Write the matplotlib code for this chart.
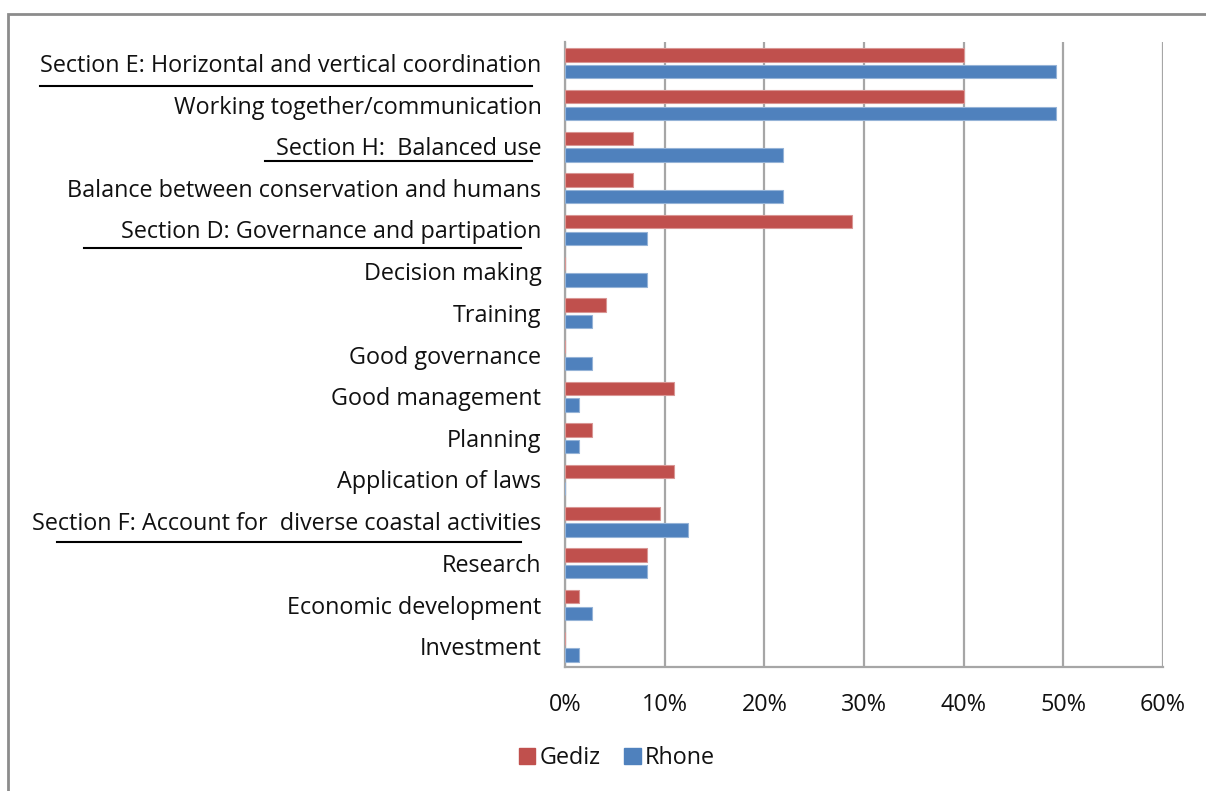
import numpy as np
import matplotlib.pyplot as plt
from matplotlib.lines import Line2D
from matplotlib.patches import Rectangle, Patch
from matplotlib.ticker import PercentFormatter
import matplotlib.transforms as mtransforms

plt.rcParams['font.family'] = ['Open Sans', 'DejaVu Sans']

categories = [
    'Section E: Horizontal and vertical coordination',
    'Working together/communication',
    'Section H:  Balanced use',
    'Balance between conservation and humans',
    'Section D: Governance and partipation',
    'Decision making',
    'Training',
    'Good governance',
    'Good management',
    'Planning',
    'Application of laws',
    'Section F: Account for  diverse coastal activities',
    'Research',
    'Economic development',
    'Investment',
]
gediz = [40.0, 40.0, 6.8, 6.8, 28.8, 0.0, 4.1, 0.0, 10.9, 2.7, 10.9, 9.5, 8.2, 1.4, 0.0]
rhone = [49.3, 49.3, 21.9, 21.9, 8.2, 8.2, 2.7, 2.7, 1.4, 1.4, 0.0, 12.3, 8.2, 2.7, 1.4]
series_names = ['Gediz', 'Rhone']
xticks = [0, 10, 20, 30, 40, 50, 60]

RED = '#C0504D'
BLUE = '#4F81BD'
GRID = '#A6A6A6'
TEXT = '#111111'
FS = 16.8

# section headings get a rule drawn under them: (category, left px, right px, y offset)
underlines = [
    (0, 40, 532, 0.56),
    (2, 265, 532, 0.36),
    (4, 84, 521, 0.44),
    (11, 57, 521, 0.50),
]

W, H = 1206, 791
fig = plt.figure(figsize=(W / 100, H / 100), dpi=100)
ax = fig.add_axes([565 / W, 1 - 667 / H, (1163 - 565) / W, (667 - 42) / H])

y = np.arange(len(categories))
h = 0.32
ax.barh(y - 0.19, gediz, height=h, color=RED, edgecolor='#D99694', linewidth=0.8,
        label=series_names[0], zorder=3)
ax.barh(y + 0.21, rhone, height=h, color=BLUE, edgecolor='#95B3D7', linewidth=0.8,
        label=series_names[1], zorder=3)

ax.set_ylim(len(categories) - 0.5, -0.5)
ax.set_yticks(y)
ax.set_yticklabels(categories, fontsize=FS, color=TEXT)
ax.set_xlim(0, 60)
ax.set_xticks(xticks)
ax.xaxis.set_major_formatter(PercentFormatter(decimals=0))
ax.tick_params(axis='x', labelsize=FS, labelcolor=TEXT, length=0, pad=19)
ax.tick_params(axis='y', length=0, pad=17)
ax.grid(axis='x', color=GRID, linewidth=1.6, zorder=0)
for s in ['top', 'right']:
    ax.spines[s].set_visible(False)
for s in ['left', 'bottom']:
    ax.spines[s].set_color(GRID)
    ax.spines[s].set_linewidth(1.6)

# rules under section headings, x in figure pixels, y in data units
trans = mtransforms.blended_transform_factory(fig.transFigure, ax.transData)
for idx, x0, x1, dy in underlines:
    fig.add_artist(Line2D([x0 / W, x1 / W], [idx + dy, idx + dy], transform=trans,
                          color='black', linewidth=1.5, clip_on=False))

handles = [Patch(color=RED), Patch(color=BLUE)]
fig.legend(handles, series_names, loc='center', bbox_to_anchor=(617 / W, 1 - 758 / H),
           ncol=2, frameon=False, fontsize=FS, handlelength=0.7, handleheight=0.7,
           handletextpad=0.2, columnspacing=1.0, labelcolor=TEXT)

# chart border
fig.add_artist(Rectangle((8 / W, -0.1), 1.1, 1 - 14 / H + 0.1, transform=fig.transFigure,
                         fill=False, edgecolor='#8C8C8C', linewidth=2))

fig.savefig('out.png', dpi=100, facecolor='white')
